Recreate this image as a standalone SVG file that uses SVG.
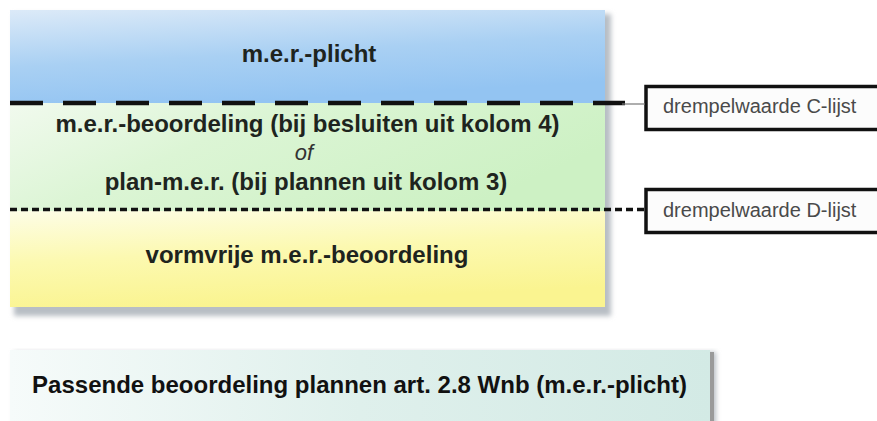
<svg xmlns="http://www.w3.org/2000/svg" width="877" height="421" viewBox="0 0 877 421">
  <defs>
    <linearGradient id="gBlue" x1="0" y1="0" x2="0.35" y2="1">
      <stop offset="0" stop-color="#dceaf8"/>
      <stop offset="0.55" stop-color="#a9d0f3"/>
      <stop offset="1" stop-color="#93c4f2"/>
    </linearGradient>
    <linearGradient id="gGreen" x1="0" y1="0" x2="1" y2="0.4">
      <stop offset="0" stop-color="#f1faee"/>
      <stop offset="0.4" stop-color="#dcf5d5"/>
      <stop offset="1" stop-color="#cdf1c4"/>
    </linearGradient>
    <linearGradient id="gYellow" x1="0" y1="0" x2="0.3" y2="1">
      <stop offset="0" stop-color="#fdfde6"/>
      <stop offset="0.5" stop-color="#fcf9b0"/>
      <stop offset="1" stop-color="#faf490"/>
    </linearGradient>
    <linearGradient id="gTeal" x1="0" y1="0" x2="1" y2="0">
      <stop offset="0" stop-color="#f6fbfa"/>
      <stop offset="0.5" stop-color="#dff0ec"/>
      <stop offset="1" stop-color="#d3eae5"/>
    </linearGradient>
    <filter id="soft" x="-5%" y="-5%" width="110%" height="120%">
      <feGaussianBlur stdDeviation="2.5"/>
    </filter>
  </defs>
  <style>
    .main { font-family: "Liberation Sans", Arial, sans-serif; font-weight: bold; font-size: 24px; fill: #1e241e; text-anchor: middle; }
    .ital { font-family: "Liberation Sans", Arial, sans-serif; font-style: italic; font-size: 22px; fill: #333; text-anchor: middle; }
    .lbl { font-family: "Liberation Sans", Arial, sans-serif; font-size: 20px; fill: #4a4a4a; }
    .lblbox { fill: #fcfcfc; stroke: #111; stroke-width: 3.5; }
    .shadow { fill: #b8bec4; filter: url(#soft); }
  </style>

  <rect width="877" height="421" fill="#ffffff"/>

  <!-- shadow of stacked box -->
  <rect class="shadow" x="14" y="14" width="597" height="302"/>

  <g id="band-mer-plicht">
    <rect x="10" y="10" width="595" height="93" fill="url(#gBlue)"/>
    <text class="main" x="309" y="62">m.e.r.-plicht</text>
  </g>

  <g id="band-mer-beoordeling">
    <rect x="10" y="103" width="595" height="108" fill="url(#gGreen)"/>
    <text class="main" x="307.5" y="132">m.e.r.-beoordeling (bij besluiten uit kolom 4)</text>
    <text class="ital" x="304" y="160">of</text>
    <text class="main" x="306" y="190">plan-m.e.r. (bij plannen uit kolom 3)</text>
  </g>

  <g id="band-vormvrij">
    <rect x="10" y="211" width="595" height="96" fill="url(#gYellow)"/>
    <text class="main" x="307" y="263">vormvrije m.e.r.-beoordeling</text>
  </g>

  <g id="label-c">
    <rect x="646" y="86.5" width="240" height="43" class="lblbox"/>
    <text class="lbl" x="663" y="113">drempelwaarde C-lijst</text>
  </g>

  <g id="label-d">
    <rect x="646" y="189.5" width="240" height="43" class="lblbox"/>
    <text class="lbl" x="663" y="217">drempelwaarde D-lijst</text>
  </g>

  <g id="connectors">
    <line x1="10" y1="103" x2="625" y2="103" stroke="#111" stroke-width="4.5" stroke-dasharray="33 20"/>
    <line x1="622" y1="104" x2="645" y2="104" stroke="#777" stroke-width="1.2"/>
    <line x1="10" y1="209.5" x2="645" y2="209.5" stroke="#111" stroke-width="3.5" stroke-dasharray="7 4"/>
  </g>

  <!-- bottom box -->
  <rect class="shadow" x="14" y="352" width="702" height="75"/>
  <g id="passende-beoordeling">
    <rect x="10" y="350" width="700" height="75" fill="url(#gTeal)"/>
    <rect x="710" y="352" width="4" height="73" fill="#9a9a9a"/>
    <text class="main" x="359.5" y="393" style="fill:#111">Passende beoordeling plannen art. 2.8 Wnb (m.e.r.-plicht)</text>
  </g>
</svg>
